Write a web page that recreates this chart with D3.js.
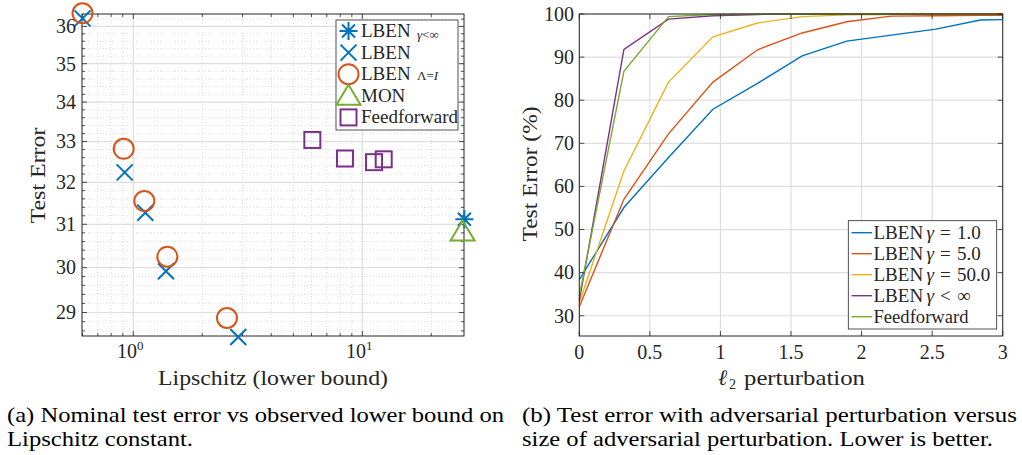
<!DOCTYPE html>
<html>
<head>
<meta charset="utf-8">
<script src="https://cdn.jsdelivr.net/npm/d3@7"></script>
</head>
<body style="margin:0;background:#fff">
<svg width="1022" height="455"></svg>
<script>
// ---- data (a): Lipschitz lower bound vs test error ----
var lbenInfLip = [27.9];
var lbenInfErr = [31.12];
var lbenLip = [0.6, 0.917, 1.128, 1.389, 2.873];
var lbenErr = [36.22, 32.24, 31.27, 29.92, 28.47];
var lbenIdLip = [0.6, 0.908, 1.117, 1.408, 2.565];
var lbenIdErr = [36.36, 32.82, 31.55, 30.25, 28.88];
var monLip = [27.4];
var monErr = [30.83];
var ffLip = [6.05, 8.4, 11.25, 12.4];
var ffErr = [33.04, 32.58, 32.49, 32.56];
var leftYTicks = [29, 30, 31, 32, 33, 34, 35, 36];

// ---- data (b): test error vs perturbation size ----
var eps = [0, 0.316, 0.632, 0.947, 1.263, 1.579, 1.895, 2.211, 2.526, 2.842, 3.0];
var errG1 = [38.4, 55.1, 66.7, 77.9, 83.9, 90.3, 93.7, 95.1, 96.5, 98.6, 98.7];
var errG5 = [32.1, 57.0, 72.2, 84.2, 91.7, 95.6, 98.2, 99.5, 99.6, 99.7, 99.7];
var errG50 = [33.0, 63.6, 84.2, 94.7, 97.9, 99.4, 99.8, 99.9, 100, 100, 100];
var errGInf = [33.5, 91.8, 98.8, 99.6, 99.9, 100, 100, 100, 100, 100, 100];
var errFF = [34.6, 86.7, 99.4, 99.9, 100, 100, 100, 100, 100, 100, 100];
var rightNames = ["1.0", "5.0", "50.0", "inf", "ff"];
var rightXTicks = [0, 0.5, 1, 1.5, 2, 2.5, 3];
var rightYTicks = [30, 40, 50, 60, 70, 80, 90, 100];

var colors = ["#0072BD", "#D95319", "#EDB120", "#7E2F8E", "#77AC30"];
var axisCol = "#262626";

var svg = d3.select("svg");

// ================= left panel =================
var xL = d3.scaleLog().domain([0.597, 27.8]).range([82, 464]);
var yL = d3.scaleLog().domain([28.49, 36.34]).range([336, 14]);

var left = svg.append("g");

// minor grid (dotted)
var xMinor = [0.6, 0.7, 0.8, 0.9, 2, 3, 4, 5, 6, 7, 8, 9, 20];
var yMinor = d3.range(28.6, 36.3, 0.2).filter(function (v) {
  return Math.abs(v - Math.round(v)) > 0.05;
});
left.selectAll(".gxm").data(xMinor).enter().append("line")
  .attr("x1", xL).attr("x2", xL).attr("y1", 14).attr("y2", 336)
  .attr("stroke", "#cfcfcf").attr("stroke-width", 0.7).attr("stroke-dasharray", "1,2");
left.selectAll(".gym").data(yMinor).enter().append("line")
  .attr("x1", 82).attr("x2", 464).attr("y1", yL).attr("y2", yL)
  .attr("stroke", "#cfcfcf").attr("stroke-width", 0.7).attr("stroke-dasharray", "1,2");
// major grid
left.selectAll(".gx").data([1, 10]).enter().append("line")
  .attr("x1", xL).attr("x2", xL).attr("y1", 14).attr("y2", 336)
  .attr("stroke", "#dedede").attr("stroke-width", 1.2);
left.selectAll(".gy").data(leftYTicks).enter().append("line")
  .attr("x1", 82).attr("x2", 464).attr("y1", yL).attr("y2", yL)
  .attr("stroke", "#dedede").attr("stroke-width", 1.2);

// ticks (inward on all four sides)
function ticksX(g, scale, vals, len, y0, y1) {
  g.selectAll(null).data(vals).enter().append("line")
    .attr("x1", scale).attr("x2", scale).attr("y1", y0).attr("y2", y0 - len)
    .attr("stroke", axisCol).attr("stroke-width", 0.8);
  g.selectAll(null).data(vals).enter().append("line")
    .attr("x1", scale).attr("x2", scale).attr("y1", y1).attr("y2", y1 + len)
    .attr("stroke", axisCol).attr("stroke-width", 0.8);
}
function ticksY(g, scale, vals, len, x0, x1) {
  g.selectAll(null).data(vals).enter().append("line")
    .attr("y1", scale).attr("y2", scale).attr("x1", x0).attr("x2", x0 + len)
    .attr("stroke", axisCol).attr("stroke-width", 0.8);
  g.selectAll(null).data(vals).enter().append("line")
    .attr("y1", scale).attr("y2", scale).attr("x1", x1).attr("x2", x1 - len)
    .attr("stroke", axisCol).attr("stroke-width", 0.8);
}
ticksX(left, xL, [1, 10], 5, 336, 14);
ticksX(left, xL, xMinor, 3, 336, 14);
ticksY(left, yL, leftYTicks, 5, 82, 464);
ticksY(left, yL, yMinor, 3, 82, 464);

left.append("rect").attr("x", 82).attr("y", 14).attr("width", 382).attr("height", 322)
  .attr("fill", "none").attr("stroke", axisCol).attr("stroke-width", 1);

// tick labels
left.selectAll(".ylab").data(leftYTicks).enter().append("text")
  .attr("x", 76).attr("y", yL).attr("dy", "0.34em")
  .attr("text-anchor", "end").style("font-size", "20px")
  .text(function (d) { return d; });
var xlab = left.selectAll(".xlab").data([[1, "0"], [10, "1"]]).enter().append("text")
  .attr("x", function (d) { return xL(d[0]) - 3; }).attr("y", 358)
  .attr("text-anchor", "middle").style("font-size", "20px");
xlab.append("tspan").text("10");
xlab.append("tspan").attr("dy", -8).style("font-size", "13px").text(function (d) { return d[1]; });

left.append("text").attr("x", 273).attr("y", 385).attr("text-anchor", "middle")
  .style("font-size", "21px").attr("textLength", 230).attr("lengthAdjust", "spacingAndGlyphs")
  .text("Lipschitz (lower bound)");
left.append("text").attr("transform", "translate(45,175.5) rotate(-90)")
  .attr("text-anchor", "middle").style("font-size", "21px")
  .attr("textLength", 96).attr("lengthAdjust", "spacingAndGlyphs")
  .text("Test Error");

// markers
function drawMarker(g, shape, cx, cy, color) {
  var s;
  if (shape === "circle") {
    g.append("circle").attr("cx", cx).attr("cy", cy).attr("r", 10)
      .attr("fill", "none").attr("stroke", color).attr("stroke-width", 2);
  } else if (shape === "x") {
    s = 8;
    g.append("path").attr("d", "M" + (cx - s) + "," + (cy - s) + "L" + (cx + s) + "," + (cy + s) +
      "M" + (cx - s) + "," + (cy + s) + "L" + (cx + s) + "," + (cy - s))
      .attr("stroke", color).attr("stroke-width", 2).attr("fill", "none");
  } else if (shape === "star") {
    s = 9; var d = 6.5;
    g.append("path").attr("d", "M" + (cx - s) + "," + cy + "L" + (cx + s) + "," + cy +
      "M" + cx + "," + (cy - s) + "L" + cx + "," + (cy + s) +
      "M" + (cx - d) + "," + (cy - d) + "L" + (cx + d) + "," + (cy + d) +
      "M" + (cx - d) + "," + (cy + d) + "L" + (cx + d) + "," + (cy - d))
      .attr("stroke", color).attr("stroke-width", 2).attr("fill", "none");
  } else if (shape === "tri") {
    g.append("path").attr("d", "M" + cx + "," + (cy - 11) + "L" + (cx + 12) + "," + (cy + 9) +
      "L" + (cx - 12) + "," + (cy + 9) + "Z")
      .attr("stroke", color).attr("stroke-width", 2).attr("fill", "none");
  } else if (shape === "square") {
    g.append("rect").attr("x", cx - 8).attr("y", cy - 8).attr("width", 16).attr("height", 16)
      .attr("stroke", color).attr("stroke-width", 2).attr("fill", "none");
  }
}
var leftSeries = [
  { lip: lbenInfLip, err: lbenInfErr, shape: "star", color: colors[0] },
  { lip: lbenLip, err: lbenErr, shape: "x", color: colors[0] },
  { lip: lbenIdLip, err: lbenIdErr, shape: "circle", color: colors[1] },
  { lip: monLip, err: monErr, shape: "tri", color: colors[4] },
  { lip: ffLip, err: ffErr, shape: "square", color: colors[3] }
];
leftSeries.forEach(function (s) {
  s.lip.forEach(function (v, i) {
    drawMarker(left, s.shape, xL(v), yL(s.err[i]), s.color);
  });
});

// legend (a)
var legL = left.append("g");
legL.append("rect").attr("x", 336).attr("y", 20).attr("width", 122).attr("height", 110)
  .attr("fill", "#fff").attr("stroke", axisCol).attr("stroke-width", 0.8);
var legLabels = ["LBEN", "LBEN", "LBEN", "MON", "Feedforward"];
leftSeries.forEach(function (s, i) {
  var cy = 31 + i * 21.6;
  drawMarker(legL, s.shape, 348.5, cy, s.color);
  legL.append("text").attr("x", 361).attr("y", cy + 6).style("font-size", "19px").text(legLabels[i]);
});
var sub1 = legL.append("text").attr("x", 417).attr("y", 39).style("font-size", "13px");
sub1.append("tspan").style("font-style", "italic").text("γ");
sub1.append("tspan").text("<∞");
var sub2 = legL.append("text").attr("x", 417).attr("y", 80).style("font-size", "13px");
sub2.append("tspan").text("Λ=");
sub2.append("tspan").style("font-style", "italic").text("I");

// ================= right panel =================
var xR = d3.scaleLinear().domain([0, 3]).range([579.3, 1002.7]);
var yR = d3.scaleLinear().domain([25.3, 100]).range([336, 14]);
var right = svg.append("g");

right.selectAll(".gx").data(rightXTicks).enter().append("line")
  .attr("x1", xR).attr("x2", xR).attr("y1", 14).attr("y2", 336)
  .attr("stroke", "#dedede").attr("stroke-width", 1.2);
right.selectAll(".gy").data(rightYTicks).enter().append("line")
  .attr("x1", 579.3).attr("x2", 1002.7).attr("y1", yR).attr("y2", yR)
  .attr("stroke", "#dedede").attr("stroke-width", 1.2);

var line = d3.line()
  .x(function (d, i) { return xR(eps[i]); })
  .y(function (d) { return yR(d); });
var rightSeries = [errG1, errG5, errG50, errGInf, errFF];
rightSeries.forEach(function (s, i) {
  right.append("path").datum(s).attr("d", line)
    .attr("fill", "none").attr("stroke", colors[i]).attr("stroke-width", 1.4);
});

ticksX(right, xR, rightXTicks, 5, 336, 14);
ticksY(right, yR, rightYTicks, 5, 579.3, 1002.7);
right.append("rect").attr("x", 579.3).attr("y", 14).attr("width", 423.4).attr("height", 322)
  .attr("fill", "none").attr("stroke", axisCol).attr("stroke-width", 1);

right.selectAll(".ylab").data(rightYTicks).enter().append("text")
  .attr("x", 574).attr("y", yR).attr("dy", "0.34em")
  .attr("text-anchor", "end").style("font-size", "20px")
  .text(function (d) { return d; });
right.selectAll(".xlab").data(rightXTicks).enter().append("text")
  .attr("x", xR).attr("y", 359).attr("text-anchor", "middle").style("font-size", "20px")
  .text(function (d) { return d; });

// x label: script l with subscript 2, then "perturbation"
right.append("text").attr("x", 718).attr("y", 385).style("font-size", "22px")
  .style("font-style", "italic").text("ℓ");
right.append("text").attr("x", 729).attr("y", 389).style("font-size", "14px").text("2");
right.append("text").attr("x", 744).attr("y", 385).style("font-size", "22px")
  .attr("textLength", 121).attr("lengthAdjust", "spacingAndGlyphs").text("perturbation");
right.append("text").attr("transform", "translate(537,174) rotate(-90)")
  .attr("text-anchor", "middle").style("font-size", "21px")
  .attr("textLength", 135).attr("lengthAdjust", "spacingAndGlyphs")
  .text("Test Error (%)");

// legend (b)
var legR = right.append("g");
legR.append("rect").attr("x", 848.3).attr("y", 220.7).attr("width", 148.4).attr("height", 108.3)
  .attr("fill", "#fff").attr("stroke", axisCol).attr("stroke-width", 0.8);
rightNames.forEach(function (n, i) {
  var cy = 232.7 + i * 21;
  legR.append("line").attr("x1", 851.5).attr("x2", 872).attr("y1", cy).attr("y2", cy)
    .attr("stroke", colors[i]).attr("stroke-width", 1.4);
  var t = legR.append("text").attr("y", cy + 6).style("font-size", "19px");
  if (n === "ff") {
    t.attr("x", 873.5).attr("textLength", 95).attr("lengthAdjust", "spacingAndGlyphs").text("Feedforward");
  } else {
    t.append("tspan").attr("x", 873.5).text("LBEN");
    t.append("tspan").attr("x", 926.5).style("font-style", "italic").text("γ");
    t.append("tspan").attr("x", 940).text(n === "inf" ? "<" : "=");
    t.append("tspan").attr("x", 957).text(n === "inf" ? "∞" : n);
  }
});

// ================= captions =================
var caps = [
  { x: 7, y: 422, w: 497, t: "(a) Nominal test error vs observed lower bound on" },
  { x: 7, y: 446, w: 186, t: "Lipschitz constant." },
  { x: 522, y: 422, w: 495, t: "(b) Test error with adversarial perturbation versus" },
  { x: 522, y: 446, w: 471, t: "size of adversarial perturbation. Lower is better." }
];
svg.selectAll(".cap").data(caps).enter().append("text")
  .attr("class", "cap")
  .attr("x", function (d) { return d.x; }).attr("y", function (d) { return d.y; })
  .attr("textLength", function (d) { return d.w; }).attr("lengthAdjust", "spacingAndGlyphs")
  .style("font-size", "22px")
  .text(function (d) { return d.t; });

// fonts and colour for all text
svg.selectAll("text")
  .style("font-family", "'Liberation Serif'")
  .style("fill", function () { return d3.select(this).classed("cap") ? "#000" : axisCol; });
</script>
</body>
</html>
